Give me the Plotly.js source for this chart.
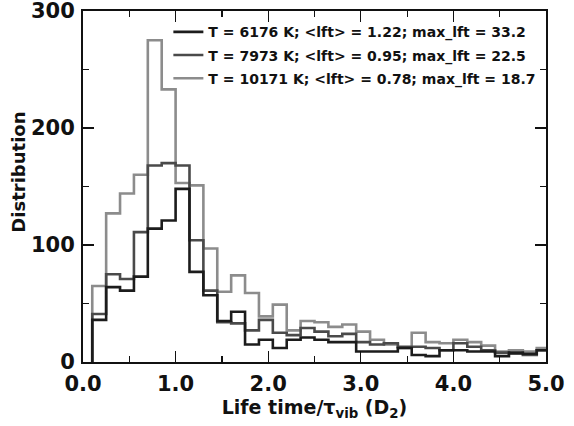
<!DOCTYPE html>
<html>
<head>
<meta charset="utf-8">
<script src="https://cdn.plot.ly/plotly-3.0.1.min.js"></script>
<style>html,body{margin:0;padding:0;background:#fff;}#chart{width:574px;height:426px;}</style>
</head>
<body>
<div id="chart"></div>
<script>
// Left edges of the histogram bins (bin width 0.15)
const binLeftEdges = [0.10,0.25,0.40,0.55,0.70,0.85,1.00,1.15,1.30,1.45,1.60,1.75,1.90,2.05,2.20,2.35,2.50,2.65,2.80,2.95,3.10,3.25,3.40,3.55,3.70,3.85,4.00,4.15,4.30,4.45,4.60,4.75,4.90];
const lastRightEdge = 5.05;

const seriesNames = [
  "T = 6176 K; <lft> = 1.22; max_lft = 33.2",
  "T = 7973 K; <lft> = 0.95; max_lft = 22.5",
  "T = 10171 K; <lft> = 0.78; max_lft = 18.7"
];
const seriesColors = ["#1c1c1c", "#4a4a4a", "#8c8c8c"];

const counts6176  = [36,64,61,73,114,121,148,77,57,35,43,15,19,12,19,21,19,17,17,9,9,9,12,6,5,10,10,9,9,5,8,7,10];
const counts7973  = [41,75,71,111,168,170,168,104,61,34,33,27,36,25,23,29,26,22,24,17,15,16,13,13,12,10,16,13,10,8,7,6,10];
const counts10171 = [65,127,144,160,275,233,153,151,97,60,74,59,39,49,27,35,34,30,32,26,19,15,12,25,17,16,19,17,14,9,10,9,12];

const allCounts = [counts6176, counts7973, counts10171];

function stepTrace(counts, name, color, rank) {
  const xs = [binLeftEdges[0]].concat(binLeftEdges, [lastRightEdge]);
  const ys = [0].concat(counts, [counts[counts.length - 1]]);
  return {
    type: "scatter", mode: "lines", x: xs, y: ys, name: name,
    legendgroup: "g" + rank, legendrank: rank,
    line: {shape: "hv", color: color, width: 2.6}, hoverinfo: "skip"
  };
}

// draw lighter series first so the black one is on top
const traces = [];
for (let i = allCounts.length - 1; i >= 0; i--) {
  traces.push(stepTrace(allCounts[i], seriesNames[i], seriesColors[i], i + 1));
}

const FONT = "DejaVu Sans, Verdana, sans-serif";

const layout = {
  width: 574, height: 426,
  margin: {l: 83, r: 28, t: 11, b: 64},
  paper_bgcolor: "#fff", plot_bgcolor: "#fff",
  font: {family: FONT, color: "#111", size: 18, weight: "bold"},
  showlegend: true,
  legend: {
    traceorder: "grouped",
    x: 0.99, xanchor: "right", y: 0.985, yanchor: "top",
    bgcolor: "rgba(0,0,0,0)", borderwidth: 0,
    font: {family: FONT, size: 14, color: "#111", weight: "bold"},
    tracegroupgap: 2, itemwidth: 30
  },
  xaxis: {
    range: [0, 5], dtick: 1, tick0: 0, tickformat: ".1f",
    ticks: "inside", ticklen: 11, tickwidth: 1.2, tickcolor: "#111",
    minor: {dtick: 0.5, ticks: "inside", ticklen: 6, tickwidth: 1.2, tickcolor: "#111"},
    showline: true, linewidth: 2, linecolor: "#111", mirror: "ticks",
    showgrid: false, zeroline: false,
    tickfont: {family: FONT, size: 21, weight: "bold", color: "#111"},
    ticklabelstandoff: 2, ticklabeloverflow: "allow",
    title: {text: "Life time/τ<sub>vib</sub> (D<sub>2</sub>)", standoff: 5,
            font: {family: FONT, size: 19, weight: "bold", color: "#111"}}
  },
  yaxis: {
    range: [0, 300], dtick: 100, tick0: 0,
    ticks: "inside", ticklen: 11, tickwidth: 1.2, tickcolor: "#111",
    minor: {dtick: 50, ticks: "inside", ticklen: 6, tickwidth: 1.2, tickcolor: "#111"},
    showline: true, linewidth: 2, linecolor: "#111", mirror: "ticks",
    showgrid: false, zeroline: false,
    tickfont: {family: FONT, size: 21, weight: "bold", color: "#111"},
    ticklabelstandoff: 2, ticklabeloverflow: "allow"
  },
  annotations: [{
    text: "Distribution", textangle: -90, showarrow: false,
    xref: "paper", yref: "paper", x: -0.14, y: 0.54,
    xanchor: "center", yanchor: "middle",
    font: {family: FONT, size: 18, weight: "bold", color: "#111"}
  }]
};

Plotly.newPlot("chart", traces, layout, {displayModeBar: false, staticPlot: true});
</script>
</body>
</html>
